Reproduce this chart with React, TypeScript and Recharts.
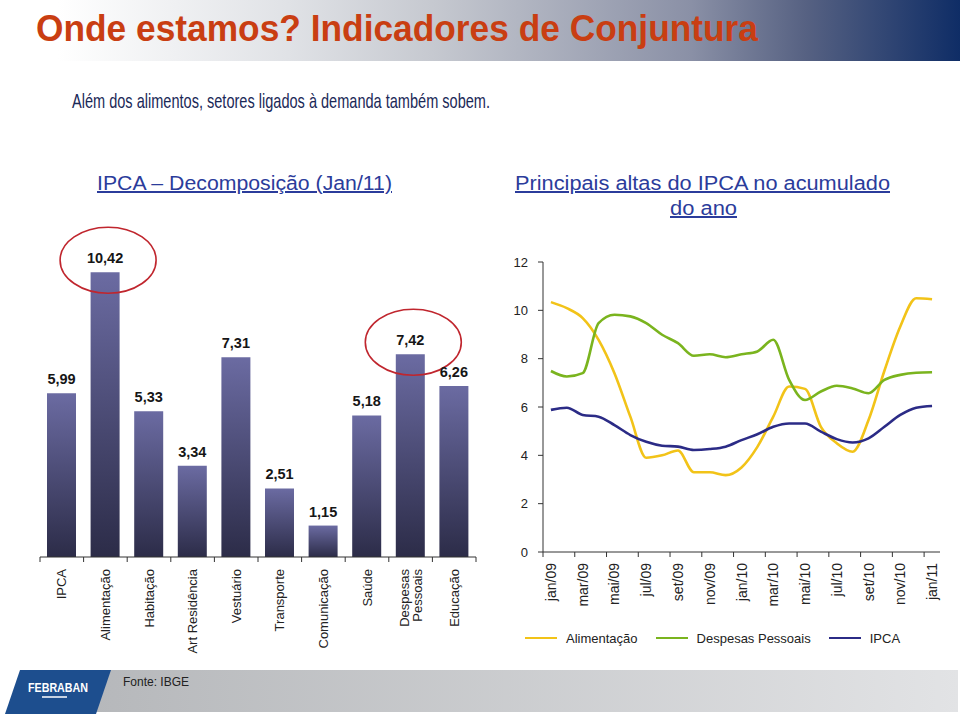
import React from 'react';
import { BarChart, Bar, XAxis, YAxis, LabelList, LineChart, Line, Legend } from 'recharts';

// ---------- Data: IPCA decomposition (Jan/11) ----------
const barCategories = [
  'IPCA', 'Alimentação', 'Habitação', 'Art Residência', 'Vestuário',
  'Transporte', 'Comunicação', 'Saúde', 'Despesas Pessoais', 'Educação',
];
const barTickLabels = [
  ['IPCA'], ['Alimentação'], ['Habitação'], ['Art Residência'], ['Vestuário'],
  ['Transporte'], ['Comunicação'], ['Saúde'], ['Despesas', 'Pessoais'], ['Educação'],
];
const barValues = [5.99, 10.42, 5.33, 3.34, 7.31, 2.51, 1.15, 5.18, 7.42, 6.26];
const highlightedCategories = ['Alimentação', 'Despesas Pessoais'];

// ---------- Data: accumulated 12 months ----------
const months = [
  'jan/09', 'fev/09', 'mar/09', 'abr/09', 'mai/09', 'jun/09', 'jul/09', 'ago/09',
  'set/09', 'out/09', 'nov/09', 'dez/09', 'jan/10', 'fev/10', 'mar/10', 'abr/10',
  'mai/10', 'jun/10', 'jul/10', 'ago/10', 'set/10', 'out/10', 'nov/10', 'dez/10', 'jan/11',
];
const alimentacao = [
  10.34, 10.09, 9.68, 8.78, 7.4, 5.6, 3.9, 4.0, 4.2, 3.3, 3.3, 3.18, 3.5,
  4.35, 5.6, 6.85, 6.75, 5.18, 4.5, 4.15, 5.46, 7.5, 9.33, 10.5, 10.46,
];
const despesasPessoais = [
  7.49, 7.26, 7.4, 9.47, 9.82, 9.75, 9.47, 8.99, 8.64, 8.12, 8.18, 8.06, 8.18,
  8.3, 8.78, 7.12, 6.29, 6.64, 6.88, 6.77, 6.57, 7.12, 7.33, 7.42, 7.44,
];
const ipca = [
  5.88, 5.97, 5.67, 5.6, 5.25, 4.84, 4.56, 4.4, 4.36, 4.22, 4.26, 4.36, 4.63,
  4.87, 5.18, 5.32, 5.32, 4.98, 4.67, 4.53, 4.7, 5.18, 5.67, 5.97, 6.04,
];
const lineYTicks = [0, 2, 4, 6, 8, 10, 12];
const seriesNames = ['Alimentação', 'Despesas Pessoais', 'IPCA'];
const seriesColors = ['#f2c318', '#7ab41e', '#2b2b86'];

const barData = barCategories.map((name, i) => ({ name, value: barValues[i] }));
const lineData = months.map((m, i) => ({
  month: m,
  alimentacao: alimentacao[i],
  despesas: despesasPessoais[i],
  ipca: ipca[i],
}));

const FONT = '"Liberation Sans", Arial, Helvetica, sans-serif';
const NARROW = '"Liberation Sans Narrow", "Arial Narrow", "Liberation Sans", Arial, sans-serif';

// layout constants (visual only)
const BAR_BAND = 43.6;
const LINE_BAND = 397 / 25;

const BarTick = (props: any) => {
  const { x, y, payload } = props;
  const idx = barCategories.indexOf(payload.value);
  const lines = barTickLabels[idx] || [String(payload.value)];
  const n = lines.length;
  return (
    <g>
      <line x1={x - BAR_BAND / 2} x2={x - BAR_BAND / 2} y1={y} y2={y + 5} stroke="#333" />
      {idx === barCategories.length - 1 && (
        <line x1={x + BAR_BAND / 2} x2={x + BAR_BAND / 2} y1={y} y2={y + 5} stroke="#333" />
      )}
      <text
        transform={`translate(${x},${y + 12}) rotate(-90)`}
        textAnchor="end"
        fontSize={13}
        fontFamily={FONT}
        fill="#222"
      >
        {lines.map((l: string, k: number) => (
          <tspan key={k} x={0} y={4.6 + (k - (n - 1) / 2) * 13}>
            {l}
          </tspan>
        ))}
      </text>
    </g>
  );
};

const BarValueLabel = (props: any) => {
  const { x, y, width, value, index } = props;
  const cx = x + width / 2;
  const name = barCategories[index];
  const hl = highlightedCategories.includes(name);
  return (
    <g>
      {hl && (
        <ellipse cx={cx + 3} cy={y - 12} rx={48} ry={33} fill="none" stroke="#c0262e" strokeWidth={1.6} />
      )}
      <text
        x={cx}
        y={y - 9}
        textAnchor="middle"
        fontSize={14.5}
        fontWeight="bold"
        fontFamily={FONT}
        fill="#161616"
      >
        {Number(value).toFixed(2).replace('.', ',')}
      </text>
    </g>
  );
};

const MonthTick = (props: any) => {
  const { x, y, payload } = props;
  const idx = months.indexOf(payload.value);
  if (idx % 2 !== 0) return null;
  return (
    <g>
      <line x1={x - LINE_BAND / 2} x2={x - LINE_BAND / 2} y1={y} y2={y + 5} stroke="#333" />
      <text
        transform={`translate(${x + 5},${y + 11}) rotate(-90)`}
        textAnchor="end"
        fontSize={14}
        fontFamily={FONT}
        fill="#222"
      >
        {payload.value}
      </text>
    </g>
  );
};

const LegendContent = () => (
  <div
    style={{
      display: 'flex',
      alignItems: 'center',
      height: 24,
      paddingLeft: 35,
      fontFamily: FONT,
      fontSize: 13,
      color: '#222',
    }}
  >
    {seriesNames.map((n, i) => (
      <div key={n} style={{ display: 'flex', alignItems: 'center', marginRight: 18 }}>
        <div style={{ width: 32, height: 1.6, background: seriesColors[i], marginRight: 9 }} />
        <span>{n}</span>
      </div>
    ))}
  </div>
);

export default function App() {
  return (
    <div
      style={{
        position: 'absolute',
        left: 0,
        top: 0,
        width: 960,
        height: 716,
        background: '#ffffff',
        overflow: 'hidden',
        fontFamily: FONT,
      }}
    >
      <svg width={960} height={716} style={{ position: 'absolute', left: 0, top: 0 }}>
        <defs>
          <linearGradient id="hdr" x1="0" x2="1" y1="0" y2="0">
            <stop offset="0" stopColor="#ffffff" />
            <stop offset="0.06" stopColor="#ffffff" />
            <stop offset="0.3" stopColor="#e0e2e6" />
            <stop offset="0.45" stopColor="#c6c9d0" />
            <stop offset="0.72" stopColor="#8a90a6" />
            <stop offset="0.84" stopColor="#566182" />
            <stop offset="1" stopColor="#0f2d66" />
          </linearGradient>
          <linearGradient id="ftr" x1="0" x2="1" y1="0" y2="0">
            <stop offset="0" stopColor="#b6b8bb" />
            <stop offset="1" stopColor="#e2e3e5" />
          </linearGradient>
        </defs>
        <rect x={0} y={0} width={960} height={61} fill="url(#hdr)" />
        <text
          x={36}
          y={41}
          fontSize={36}
          fontWeight="bold"
          fill="#c93e12"
          fontFamily={NARROW}
          textLength={722}
          lengthAdjust="spacingAndGlyphs"
        >
          Onde estamos? Indicadores de Conjuntura
        </text>
        <text
          x={72}
          y={108}
          fontSize={21}
          fill="#1b2958"
          fontFamily={NARROW}
          textLength={418}
          lengthAdjust="spacingAndGlyphs"
        >
          Além dos alimentos, setores ligados à demanda também sobem.
        </text>
        <text
          x={97}
          y={190}
          fontSize={20}
          fill="#2b3c9b"
          fontFamily={NARROW}
          textLength={295}
          lengthAdjust="spacingAndGlyphs"
          textDecoration="underline"
        >
          IPCA – Decomposição (Jan/11)
        </text>
        <text
          x={515}
          y={190}
          fontSize={20}
          fill="#2b3c9b"
          fontFamily={NARROW}
          textLength={375}
          lengthAdjust="spacingAndGlyphs"
          textDecoration="underline"
        >
          Principais altas do IPCA no acumulado
        </text>
        <text
          x={670}
          y={215}
          fontSize={20}
          fill="#2b3c9b"
          fontFamily={NARROW}
          textLength={67}
          lengthAdjust="spacingAndGlyphs"
          textDecoration="underline"
        >
          do ano
        </text>
        {/* footer */}
        <polygon points="108,670 958,670 958,712 94,712" fill="url(#ftr)" />
        <polygon points="20,670 111,670 96,714 5,714" fill="#1d4e8e" />
        <text
          x={28}
          y={692}
          fontSize={12.5}
          fontWeight="bold"
          fill="#ffffff"
          fontFamily={FONT}
          textLength={60}
          lengthAdjust="spacingAndGlyphs"
        >
          FEBRABAN
        </text>
        <line x1={42} x2={67} y1={697} y2={697} stroke="#ffffff" strokeWidth={1.5} />
        <text x={123} y={686} fontSize={12} fill="#222" fontFamily={FONT}>
          Fonte: IBGE
        </text>
      </svg>

      <div style={{ position: 'absolute', left: 0, top: 200 }}>
        <BarChart
          width={490}
          height={470}
          data={barData}
          margin={{ top: 29, right: 14, left: 40, bottom: 13 }}
          barSize={29}
        >
          <defs>
            <linearGradient id="barGrad" x1="0" x2="0" y1="0" y2="1">
              <stop offset="0" stopColor="#6b6ba2" />
              <stop offset="1" stopColor="#2c2c48" />
            </linearGradient>
          </defs>
          <YAxis hide domain={[0, 12]} />
          <XAxis
            dataKey="name"
            interval={0}
            height={100}
            tickSize={0}
            tickMargin={0}
            tickLine={false}
            axisLine={{ stroke: '#333' }}
            tick={<BarTick />}
          />
          <Bar dataKey="value" fill="url(#barGrad)" isAnimationActive={false}>
            <LabelList dataKey="value" content={<BarValueLabel />} />
          </Bar>
        </BarChart>
      </div>

      <div style={{ position: 'absolute', left: 490, top: 240 }}>
        <LineChart
          width={470}
          height={420}
          data={lineData}
          margin={{ top: 22, right: 20, left: 0, bottom: 10 }}
        >
          <YAxis
            width={53}
            domain={[0, 12]}
            ticks={lineYTicks}
            tickSize={5}
            tickMargin={10}
            axisLine={{ stroke: '#333' }}
            tickLine={{ stroke: '#333' }}
            tick={{ fontSize: 13, fill: '#222', fontFamily: FONT }}
          />
          <XAxis
            dataKey="month"
            scale="band"
            interval={0}
            height={74}
            tickSize={0}
            tickMargin={0}
            tickLine={false}
            axisLine={{ stroke: '#333' }}
            tick={<MonthTick />}
          />
          <Legend verticalAlign="bottom" height={24} wrapperStyle={{ left: 0, width: 470 }} content={<LegendContent />} />
          <Line type="monotone" dataKey="alimentacao" name={seriesNames[0]} stroke={seriesColors[0]} strokeWidth={2.6} dot={false} isAnimationActive={false} />
          <Line type="monotone" dataKey="despesas" name={seriesNames[1]} stroke={seriesColors[1]} strokeWidth={2.6} dot={false} isAnimationActive={false} />
          <Line type="monotone" dataKey="ipca" name={seriesNames[2]} stroke={seriesColors[2]} strokeWidth={2.6} dot={false} isAnimationActive={false} />
        </LineChart>
      </div>
    </div>
  );
}
